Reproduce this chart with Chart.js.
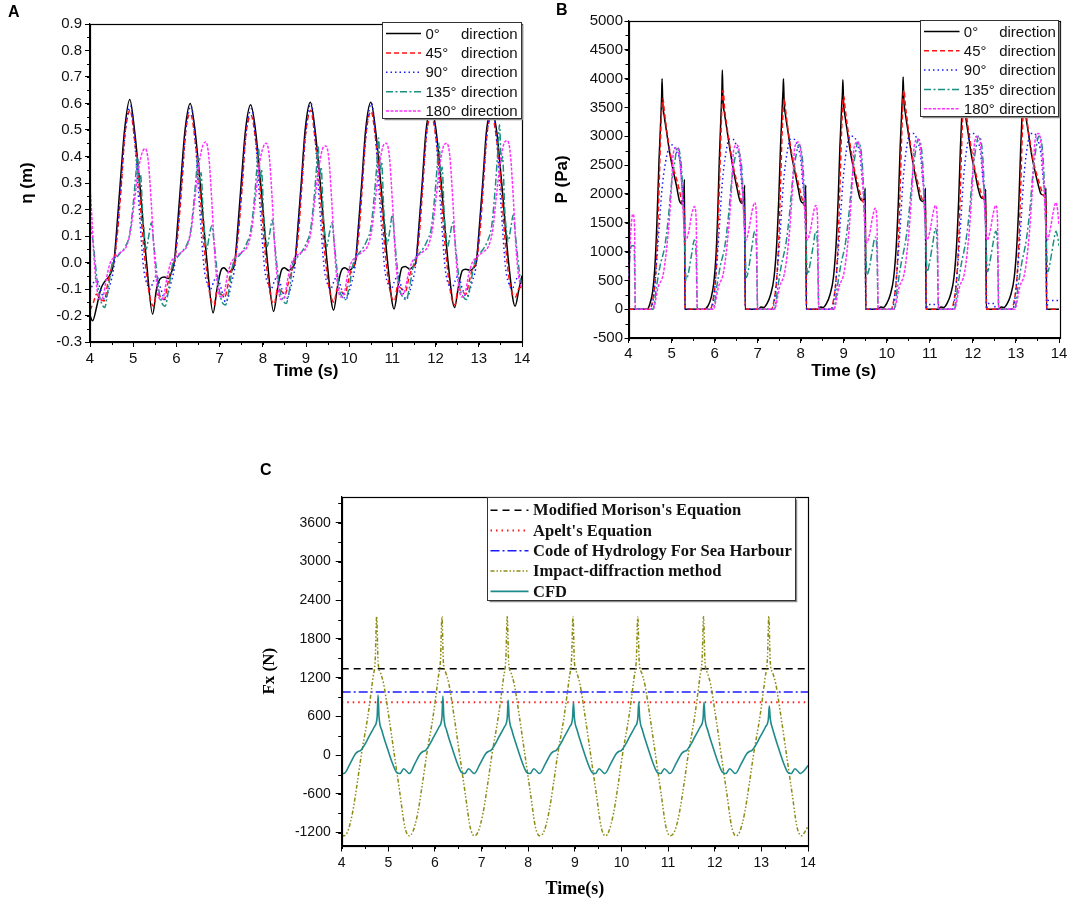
<!DOCTYPE html>
<html>
<head>
<meta charset="utf-8">
<script src="https://cdn.jsdelivr.net/npm/chart.js@4.4.1/dist/chart.umd.min.js"></script>
<style>
  html, body { margin: 0; padding: 0; background: #fff; }
  #wrap { position: relative; width: 1084px; height: 902px; background: #fff; overflow: hidden; }
  .panel { position: absolute; }
  .plabel { position: absolute; font: bold 16px "Liberation Sans", Arial, sans-serif; line-height: 16px; color: #000; }
</style>
</head>
<body>
<div id="wrap">
  <div class="panel" style="left:0;top:0;width:542px;height:400px"><canvas id="ca" width="542" height="400"></canvas></div>
  <div class="panel" style="left:542px;top:0;width:542px;height:400px"><canvas id="cb" width="542" height="400"></canvas></div>
  <div class="panel" style="left:250px;top:470px;width:600px;height:432px"><canvas id="cc" width="600" height="432"></canvas></div>
  <div class="plabel" style="left:8px;top:4px">A</div>
  <div class="plabel" style="left:556px;top:2px">B</div>
  <div class="plabel" style="left:260px;top:462px">C</div>
</div>
<script>
// ---------------- DATA ----------------
// shared time axis ticks
const timeTicks = [4, 5, 6, 7, 8, 9, 10, 11, 12, 13, 14];
const etaTicks = [-0.3, -0.2, -0.1, 0.0, 0.1, 0.2, 0.3, 0.4, 0.5, 0.6, 0.7, 0.8, 0.9];
const pressureTicks = [-500, 0, 500, 1000, 1500, 2000, 2500, 3000, 3500, 4000, 4500, 5000];
const forceTicks = [-1200, -600, 0, 600, 1200, 1800, 2400, 3000, 3600];

const directionNames = ['0°', '45°', '90°', '135°', '180°'];
const forceNames = ["Modified Morison's Equation", "Apelt's Equation", 'Code of Hydrology For Sea Harbour', 'Impact-diffraction method', 'CFD'];

// Panel A: wave elevation eta (m) vs time (s), [t, eta]
const eta0 = [[4.00,-0.20],[4.06,-0.22],[4.15,-0.17],[4.25,-0.10],[4.35,-0.07],[4.45,-0.05],[4.55,0.00],[4.63,0.15],[4.70,0.30],[4.80,0.50],[4.92,0.615],[5.03,0.50],[5.15,0.30],[5.31,0.00],[5.45,-0.195],[5.54,-0.10],[5.63,-0.06],[5.72,-0.055],[5.82,-0.06],[5.90,-0.03],[5.95,0.00],[6.03,0.15],[6.10,0.30],[6.20,0.50],[6.32,0.60],[6.43,0.50],[6.55,0.30],[6.71,0.00],[6.85,-0.19],[6.94,-0.10],[7.03,-0.03],[7.10,-0.02],[7.20,-0.035],[7.28,-0.03],[7.35,0.00],[7.43,0.15],[7.50,0.30],[7.60,0.50],[7.72,0.595],[7.83,0.50],[7.95,0.30],[8.11,0.00],[8.25,-0.185],[8.34,-0.10],[8.43,-0.03],[8.50,-0.02],[8.60,-0.03],[8.68,-0.02],[8.74,0.00],[8.82,0.15],[8.89,0.30],[8.98,0.50],[9.10,0.605],[9.21,0.50],[9.33,0.30],[9.49,0.00],[9.64,-0.18],[9.73,-0.09],[9.82,-0.03],[9.90,-0.02],[10.00,-0.03],[10.08,-0.02],[10.14,0.00],[10.22,0.15],[10.29,0.30],[10.38,0.50],[10.50,0.605],[10.61,0.50],[10.73,0.30],[10.89,0.00],[11.04,-0.175],[11.13,-0.09],[11.22,-0.02],[11.30,-0.015],[11.40,-0.025],[11.48,-0.015],[11.54,0.00],[11.62,0.15],[11.69,0.30],[11.78,0.50],[11.90,0.58],[12.01,0.50],[12.13,0.30],[12.29,0.00],[12.44,-0.17],[12.53,-0.09],[12.62,-0.03],[12.70,-0.025],[12.80,-0.03],[12.88,-0.02],[12.94,0.00],[13.02,0.15],[13.09,0.30],[13.18,0.50],[13.30,0.57],[13.41,0.50],[13.53,0.30],[13.69,0.00],[13.84,-0.165],[13.93,-0.10],[14.00,-0.05]];
const eta45 = [[4.00,-0.18],[4.08,-0.15],[4.15,-0.12],[4.25,-0.14],[4.33,-0.145],[4.41,-0.08],[4.48,-0.03],[4.55,0.00],[4.64,0.12],[4.72,0.28],[4.80,0.47],[4.87,0.55],[4.93,0.575],[5.02,0.48],[5.12,0.32],[5.22,0.10],[5.32,-0.06],[5.40,-0.14],[5.47,-0.165],[5.54,-0.12],[5.64,-0.13],[5.72,-0.14],[5.80,-0.08],[5.87,-0.03],[5.95,0.00],[6.04,0.12],[6.12,0.28],[6.20,0.47],[6.27,0.55],[6.33,0.56],[6.42,0.48],[6.52,0.32],[6.62,0.10],[6.72,-0.06],[6.80,-0.14],[6.87,-0.16],[6.94,-0.11],[7.04,-0.12],[7.12,-0.13],[7.20,-0.08],[7.27,-0.03],[7.35,0.00],[7.44,0.12],[7.52,0.28],[7.60,0.47],[7.67,0.54],[7.73,0.555],[7.82,0.48],[7.92,0.32],[8.02,0.10],[8.12,-0.06],[8.20,-0.14],[8.27,-0.155],[8.34,-0.10],[8.44,-0.11],[8.52,-0.12],[8.60,-0.07],[8.67,-0.03],[8.74,0.00],[8.83,0.12],[8.90,0.28],[8.98,0.47],[9.05,0.55],[9.11,0.575],[9.20,0.48],[9.30,0.32],[9.40,0.10],[9.50,-0.06],[9.58,-0.13],[9.65,-0.15],[9.72,-0.10],[9.82,-0.11],[9.90,-0.12],[9.98,-0.07],[10.06,-0.02],[10.14,0.00],[10.23,0.12],[10.30,0.28],[10.38,0.47],[10.45,0.55],[10.51,0.57],[10.60,0.48],[10.70,0.32],[10.80,0.10],[10.90,-0.06],[10.98,-0.13],[11.05,-0.145],[11.12,-0.09],[11.22,-0.10],[11.30,-0.11],[11.38,-0.06],[11.46,-0.02],[11.54,0.00],[11.63,0.12],[11.70,0.28],[11.78,0.47],[11.85,0.54],[11.91,0.55],[12.00,0.48],[12.10,0.32],[12.20,0.10],[12.30,-0.06],[12.38,-0.14],[12.45,-0.16],[12.52,-0.10],[12.62,-0.11],[12.70,-0.12],[12.78,-0.07],[12.86,-0.02],[12.94,0.00],[13.03,0.12],[13.10,0.28],[13.18,0.47],[13.25,0.54],[13.31,0.55],[13.40,0.48],[13.50,0.32],[13.60,0.10],[13.70,-0.06],[13.78,-0.12],[13.85,-0.13],[13.92,-0.10],[14.00,-0.09]];
const eta90 = [[4.00,-0.11],[4.07,-0.08],[4.14,-0.06],[4.24,-0.10],[4.34,-0.14],[4.42,-0.11],[4.47,-0.08],[4.55,-0.02],[4.62,0.10],[4.72,0.30],[4.82,0.50],[4.90,0.58],[4.94,0.59],[5.04,0.45],[5.14,0.20],[5.24,-0.02],[5.34,-0.09],[5.39,-0.10],[5.47,-0.07],[5.54,-0.05],[5.64,-0.10],[5.74,-0.14],[5.82,-0.11],[5.87,-0.08],[5.95,-0.02],[6.02,0.10],[6.12,0.30],[6.22,0.50],[6.30,0.58],[6.34,0.59],[6.44,0.45],[6.54,0.20],[6.64,-0.02],[6.74,-0.09],[6.79,-0.10],[6.87,-0.07],[6.94,-0.05],[7.04,-0.10],[7.14,-0.15],[7.22,-0.12],[7.27,-0.08],[7.35,-0.02],[7.42,0.10],[7.52,0.30],[7.62,0.50],[7.70,0.57],[7.74,0.58],[7.84,0.45],[7.94,0.20],[8.04,-0.02],[8.14,-0.09],[8.19,-0.10],[8.27,-0.07],[8.34,-0.05],[8.44,-0.10],[8.54,-0.14],[8.62,-0.11],[8.67,-0.08],[8.74,-0.02],[8.80,0.10],[8.90,0.30],[9.00,0.50],[9.08,0.59],[9.12,0.60],[9.22,0.45],[9.32,0.20],[9.42,-0.02],[9.52,-0.09],[9.57,-0.10],[9.65,-0.07],[9.72,-0.05],[9.82,-0.10],[9.92,-0.14],[10.00,-0.11],[10.05,-0.08],[10.13,-0.02],[10.20,0.10],[10.30,0.30],[10.40,0.50],[10.48,0.59],[10.52,0.60],[10.62,0.45],[10.72,0.20],[10.82,-0.02],[10.92,-0.09],[10.97,-0.10],[11.05,-0.07],[11.12,-0.05],[11.22,-0.10],[11.32,-0.14],[11.40,-0.11],[11.45,-0.08],[11.53,-0.02],[11.60,0.10],[11.70,0.30],[11.80,0.50],[11.88,0.57],[11.92,0.58],[12.02,0.45],[12.12,0.20],[12.22,-0.02],[12.32,-0.09],[12.37,-0.10],[12.45,-0.07],[12.52,-0.05],[12.62,-0.10],[12.72,-0.13],[12.80,-0.10],[12.85,-0.07],[12.93,-0.02],[13.00,0.10],[13.10,0.30],[13.20,0.50],[13.28,0.56],[13.32,0.57],[13.42,0.45],[13.52,0.20],[13.62,-0.02],[13.72,-0.09],[13.77,-0.10],[13.85,-0.07],[13.92,-0.05],[14.00,-0.08]];
const eta135 = [[4.00,0.15],[4.07,0.08],[4.12,0.00],[4.19,-0.10],[4.26,-0.15],[4.34,-0.17],[4.42,-0.10],[4.52,0.00],[4.62,0.02],[4.72,0.04],[4.82,0.06],[4.92,0.11],[5.00,0.22],[5.06,0.33],[5.10,0.40],[5.14,0.30],[5.17,0.33],[5.22,0.18],[5.26,0.10],[5.30,0.05],[5.36,0.10],[5.42,0.15],[5.47,0.08],[5.52,0.00],[5.59,-0.10],[5.66,-0.15],[5.74,-0.165],[5.82,-0.10],[5.92,0.00],[6.02,0.02],[6.12,0.04],[6.22,0.06],[6.32,0.11],[6.40,0.22],[6.46,0.33],[6.50,0.40],[6.54,0.30],[6.57,0.34],[6.62,0.18],[6.66,0.10],[6.70,0.05],[6.76,0.10],[6.82,0.14],[6.87,0.08],[6.92,0.00],[6.99,-0.10],[7.06,-0.15],[7.14,-0.16],[7.22,-0.10],[7.32,0.00],[7.42,0.02],[7.52,0.04],[7.62,0.07],[7.72,0.12],[7.80,0.23],[7.86,0.35],[7.90,0.43],[7.94,0.32],[7.97,0.35],[8.02,0.18],[8.06,0.10],[8.10,0.06],[8.16,0.11],[8.22,0.16],[8.27,0.08],[8.32,0.00],[8.39,-0.10],[8.46,-0.14],[8.54,-0.155],[8.62,-0.10],[8.70,0.00],[8.80,0.02],[8.90,0.04],[9.00,0.07],[9.10,0.12],[9.18,0.23],[9.24,0.35],[9.28,0.44],[9.32,0.33],[9.35,0.36],[9.40,0.18],[9.44,0.10],[9.48,0.06],[9.54,0.11],[9.60,0.15],[9.65,0.08],[9.70,0.00],[9.77,-0.10],[9.84,-0.13],[9.92,-0.14],[10.00,-0.09],[10.10,0.00],[10.20,0.03],[10.30,0.05],[10.40,0.08],[10.50,0.13],[10.58,0.25],[10.64,0.37],[10.68,0.47],[10.72,0.35],[10.75,0.38],[10.80,0.20],[10.84,0.12],[10.88,0.07],[10.94,0.12],[11.00,0.18],[11.05,0.09],[11.10,0.00],[11.17,-0.10],[11.24,-0.13],[11.32,-0.14],[11.40,-0.09],[11.50,0.00],[11.60,0.03],[11.70,0.05],[11.80,0.08],[11.90,0.13],[11.98,0.25],[12.04,0.37],[12.08,0.45],[12.12,0.33],[12.15,0.36],[12.20,0.18],[12.24,0.10],[12.28,0.06],[12.34,0.11],[12.40,0.15],[12.45,0.08],[12.50,0.00],[12.57,-0.10],[12.64,-0.13],[12.72,-0.14],[12.80,-0.09],[12.90,0.00],[13.00,0.03],[13.10,0.05],[13.20,0.08],[13.30,0.14],[13.38,0.28],[13.44,0.42],[13.48,0.52],[13.52,0.38],[13.55,0.40],[13.60,0.20],[13.64,0.12],[13.68,0.08],[13.74,0.13],[13.80,0.18],[13.85,0.10],[13.90,0.02],[13.96,-0.06],[14.00,-0.08]];
const eta180 = [[4.00,0.29],[4.04,0.18],[4.08,0.05],[4.14,-0.07],[4.22,-0.14],[4.30,-0.13],[4.38,-0.06],[4.47,0.00],[4.57,0.02],[4.72,0.04],[4.84,0.06],[4.94,0.12],[5.02,0.22],[5.12,0.35],[5.22,0.42],[5.28,0.43],[5.35,0.38],[5.42,0.22],[5.48,0.05],[5.54,-0.07],[5.62,-0.14],[5.70,-0.13],[5.78,-0.06],[5.87,0.00],[5.97,0.02],[6.12,0.04],[6.24,0.06],[6.34,0.12],[6.42,0.23],[6.52,0.37],[6.62,0.445],[6.68,0.455],[6.75,0.40],[6.82,0.23],[6.88,0.05],[6.94,-0.07],[7.02,-0.13],[7.10,-0.12],[7.18,-0.05],[7.27,0.00],[7.37,0.02],[7.52,0.04],[7.64,0.06],[7.74,0.12],[7.82,0.23],[7.92,0.37],[8.02,0.44],[8.08,0.45],[8.15,0.40],[8.22,0.23],[8.28,0.05],[8.34,-0.07],[8.42,-0.14],[8.50,-0.13],[8.58,-0.06],[8.67,0.00],[8.75,0.02],[8.90,0.04],[9.02,0.06],[9.12,0.12],[9.20,0.23],[9.30,0.36],[9.40,0.435],[9.46,0.44],[9.53,0.39],[9.60,0.22],[9.66,0.05],[9.72,-0.07],[9.80,-0.13],[9.88,-0.12],[9.96,-0.05],[10.05,0.00],[10.15,0.02],[10.30,0.04],[10.42,0.06],[10.52,0.12],[10.60,0.23],[10.70,0.37],[10.80,0.445],[10.86,0.45],[10.93,0.40],[11.00,0.23],[11.06,0.05],[11.12,-0.07],[11.20,-0.12],[11.28,-0.11],[11.36,-0.05],[11.45,0.00],[11.55,0.02],[11.70,0.04],[11.82,0.06],[11.92,0.12],[12.00,0.23],[12.10,0.37],[12.20,0.445],[12.26,0.45],[12.33,0.40],[12.40,0.23],[12.46,0.05],[12.52,-0.07],[12.60,-0.13],[12.68,-0.12],[12.76,-0.05],[12.85,0.00],[12.95,0.02],[13.10,0.04],[13.22,0.06],[13.32,0.12],[13.40,0.24],[13.50,0.38],[13.60,0.455],[13.66,0.46],[13.73,0.41],[13.80,0.24],[13.86,0.06],[13.92,-0.05],[14.00,-0.10]];

// Panel B: pressure P (Pa) vs time (s), [t, P]
const p0 = [[4.00,0],[4.43,0],[4.50,100],[4.56,300],[4.61,700],[4.66,1500],[4.71,2600],[4.75,3300],[4.77,3700],[4.78,4000],[4.795,3600],[4.83,3350],[4.88,3100],[4.96,2700],[5.04,2400],[5.12,2120],[5.18,1890],[5.24,1830],[5.28,1950],[5.30,2250],[5.31,0],[5.75,0],[5.85,60],[5.92,200],[5.98,450],[6.03,900],[6.07,1600],[6.11,2600],[6.15,3400],[6.17,3800],[6.18,4150],[6.195,3650],[6.23,3400],[6.28,3150],[6.36,2750],[6.44,2400],[6.52,2100],[6.58,1900],[6.64,1840],[6.68,1950],[6.70,2150],[6.71,0],[7.02,0],[7.08,40],[7.14,30],[7.22,100],[7.30,250],[7.38,550],[7.44,1100],[7.49,1900],[7.53,2800],[7.57,3500],[7.59,3800],[7.60,4000],[7.615,3600],[7.65,3350],[7.70,3100],[7.78,2700],[7.86,2400],[7.94,2100],[8.00,1880],[8.06,1840],[8.10,1950],[8.12,2150],[8.13,0],[8.40,0],[8.46,40],[8.52,30],[8.60,100],[8.68,250],[8.76,550],[8.82,1100],[8.87,1900],[8.91,2800],[8.95,3500],[8.97,3750],[8.98,3980],[8.995,3600],[9.03,3350],[9.08,3100],[9.16,2700],[9.24,2400],[9.32,2100],[9.38,1920],[9.44,1880],[9.48,1950],[9.50,2100],[9.51,0],[9.80,0],[9.86,40],[9.92,30],[10.00,100],[10.08,250],[10.16,550],[10.22,1100],[10.27,1900],[10.31,2800],[10.35,3500],[10.37,3800],[10.38,4030],[10.395,3650],[10.43,3400],[10.48,3150],[10.56,2750],[10.64,2400],[10.72,2100],[10.78,1900],[10.84,1870],[10.88,1950],[10.90,2100],[10.91,0],[11.20,0],[11.26,40],[11.32,30],[11.40,100],[11.48,250],[11.56,550],[11.62,1100],[11.67,1900],[11.71,2800],[11.75,3500],[11.77,3750],[11.78,3950],[11.795,3600],[11.83,3350],[11.88,3100],[11.96,2700],[12.04,2400],[12.12,2100],[12.18,1950],[12.24,1920],[12.28,1960],[12.30,2080],[12.31,0],[12.60,0],[12.66,40],[12.72,30],[12.80,100],[12.88,250],[12.96,550],[13.02,1100],[13.07,1900],[13.11,2800],[13.15,3500],[13.17,3750],[13.18,3950],[13.195,3600],[13.23,3350],[13.28,3100],[13.36,2700],[13.44,2400],[13.52,2150],[13.58,2000],[13.64,1980],[13.68,2000],[13.70,2100],[13.71,0],[14.00,0]];
const p45 = [[4.00,0],[4.50,0],[4.56,150],[4.62,500],[4.67,1200],[4.71,2100],[4.75,3100],[4.78,3550],[4.80,3650],[4.83,3450],[4.88,3150],[4.96,2750],[5.04,2450],[5.12,2250],[5.20,2000],[5.26,1800],[5.30,1650],[5.315,0],[5.90,0],[5.96,150],[6.02,500],[6.07,1200],[6.11,2100],[6.15,3100],[6.18,3700],[6.20,3800],[6.23,3500],[6.28,3200],[6.36,2800],[6.44,2450],[6.52,2200],[6.60,1950],[6.66,1800],[6.70,1650],[6.715,0],[7.32,0],[7.38,150],[7.44,500],[7.49,1200],[7.53,2100],[7.57,3100],[7.60,3550],[7.62,3650],[7.65,3450],[7.70,3150],[7.78,2750],[7.86,2450],[7.94,2200],[8.02,1950],[8.08,1800],[8.12,1650],[8.135,0],[8.70,0],[8.76,150],[8.82,500],[8.87,1200],[8.91,2100],[8.95,3100],[8.98,3600],[9.00,3700],[9.03,3500],[9.08,3200],[9.16,2800],[9.24,2450],[9.32,2200],[9.40,1950],[9.46,1850],[9.50,1700],[9.515,0],[10.10,0],[10.16,150],[10.22,500],[10.27,1200],[10.31,2100],[10.35,3100],[10.38,3700],[10.40,3800],[10.43,3550],[10.48,3250],[10.56,2800],[10.64,2450],[10.72,2200],[10.80,1950],[10.86,1850],[10.90,1700],[10.915,0],[11.50,0],[11.56,150],[11.62,500],[11.67,1200],[11.71,2100],[11.75,3100],[11.78,3600],[11.80,3700],[11.83,3500],[11.88,3200],[11.96,2800],[12.04,2450],[12.12,2200],[12.20,2000],[12.26,1900],[12.30,1750],[12.315,0],[12.90,0],[12.96,150],[13.02,500],[13.07,1200],[13.11,2100],[13.15,3100],[13.18,3550],[13.20,3650],[13.23,3450],[13.28,3150],[13.36,2750],[13.44,2450],[13.52,2250],[13.60,2050],[13.66,1950],[13.70,1800],[13.715,0],[14.00,0]];
const p90 = [[4.00,0],[4.52,0],[4.55,50],[4.62,500],[4.70,1300],[4.78,2100],[4.86,2550],[4.94,2800],[5.02,2850],[5.10,2750],[5.20,2550],[5.26,2000],[5.30,1600],[5.315,0],[5.92,0],[5.95,50],[6.02,500],[6.10,1300],[6.18,2200],[6.26,2700],[6.34,2950],[6.42,2950],[6.50,2850],[6.58,2600],[6.64,2100],[6.69,1700],[6.715,0],[7.34,0],[7.37,50],[7.44,500],[7.52,1300],[7.60,2200],[7.68,2700],[7.76,2950],[7.84,2950],[7.92,2850],[8.00,2600],[8.06,2100],[8.11,1700],[8.135,0],[8.72,0],[8.75,50],[8.82,500],[8.90,1300],[8.98,2200],[9.06,2750],[9.14,3000],[9.22,3000],[9.30,2900],[9.38,2650],[9.44,2150],[9.49,1750],[9.515,0],[10.12,0],[10.15,50],[10.22,500],[10.30,1300],[10.38,2250],[10.46,2800],[10.54,3050],[10.62,3050],[10.70,2950],[10.78,2700],[10.84,2200],[10.89,1750],[10.915,0],[10.95,80],[11.20,80],[11.22,0],[11.52,0],[11.55,50],[11.62,500],[11.70,1300],[11.78,2250],[11.86,2800],[11.94,3050],[12.02,3050],[12.10,2950],[12.18,2700],[12.24,2200],[12.29,1750],[12.315,0],[12.35,100],[12.50,100],[12.52,0],[12.92,0],[12.95,50],[13.02,500],[13.10,1300],[13.18,2250],[13.26,2800],[13.34,3050],[13.42,3050],[13.50,2950],[13.58,2700],[13.64,2200],[13.69,1750],[13.715,0],[13.75,150],[14.00,150]];
const p135 = [[4.00,560],[4.04,1000],[4.08,1100],[4.13,1100],[4.16,0],[4.57,0],[4.65,390],[4.73,740],[4.84,1080],[4.92,1540],[5.00,2180],[5.08,2580],[5.13,2810],[5.18,2750],[5.24,2350],[5.29,1430],[5.34,510],[5.39,620],[5.47,970],[5.53,1200],[5.57,970],[5.60,0],[5.97,0],[6.05,390],[6.13,740],[6.24,1100],[6.32,1600],[6.40,2250],[6.48,2650],[6.53,2750],[6.58,2700],[6.64,2350],[6.69,1450],[6.74,550],[6.79,700],[6.87,1100],[6.93,1350],[6.97,1100],[7.00,0],[7.39,0],[7.47,390],[7.55,760],[7.66,1150],[7.74,1650],[7.82,2300],[7.90,2700],[7.95,2850],[8.00,2800],[8.06,2400],[8.11,1450],[8.16,600],[8.21,750],[8.29,1100],[8.35,1350],[8.39,1100],[8.42,0],[8.77,0],[8.85,390],[8.93,760],[9.04,1150],[9.12,1650],[9.20,2300],[9.28,2750],[9.33,2900],[9.38,2850],[9.44,2400],[9.49,1450],[9.54,600],[9.59,700],[9.67,1050],[9.73,1250],[9.77,1050],[9.80,0],[10.17,0],[10.25,400],[10.33,780],[10.44,1200],[10.52,1700],[10.60,2350],[10.68,2800],[10.73,2950],[10.78,2900],[10.84,2450],[10.89,1500],[10.94,650],[10.99,800],[11.07,1150],[11.13,1400],[11.17,1150],[11.20,0],[11.57,0],[11.65,400],[11.73,780],[11.84,1200],[11.92,1700],[12.00,2400],[12.08,2850],[12.13,3000],[12.18,2950],[12.24,2500],[12.29,1500],[12.34,650],[12.39,800],[12.47,1150],[12.53,1350],[12.57,1150],[12.60,0],[12.97,0],[13.05,400],[13.13,780],[13.24,1200],[13.32,1700],[13.40,2400],[13.48,2850],[13.53,3000],[13.58,2950],[13.64,2500],[13.69,1500],[13.74,650],[13.79,800],[13.87,1150],[13.93,1350],[13.97,1250],[14.00,1100]];
const p180 = [[4.00,500],[4.05,1300],[4.10,1650],[4.14,1450],[4.16,0],[4.57,0],[4.69,390],[4.81,620],[4.92,1310],[4.99,2000],[5.04,2700],[5.12,2810],[5.17,2700],[5.24,2120],[5.29,1430],[5.33,1200],[5.40,1350],[5.47,1650],[5.53,1780],[5.57,1600],[5.60,0],[5.97,0],[6.09,390],[6.21,650],[6.32,1350],[6.39,2050],[6.44,2750],[6.52,2850],[6.57,2750],[6.64,2150],[6.69,1450],[6.73,1200],[6.80,1400],[6.87,1700],[6.93,1850],[6.97,1650],[7.00,0],[7.39,0],[7.51,390],[7.63,650],[7.74,1350],[7.81,2100],[7.86,2800],[7.94,2900],[7.99,2800],[8.06,2200],[8.11,1450],[8.15,1200],[8.22,1350],[8.29,1650],[8.35,1800],[8.39,1600],[8.42,0],[8.77,0],[8.89,390],[9.01,650],[9.12,1350],[9.19,2100],[9.24,2800],[9.32,2900],[9.37,2800],[9.44,2200],[9.49,1450],[9.53,1150],[9.60,1300],[9.67,1600],[9.73,1750],[9.77,1550],[9.80,0],[10.17,0],[10.29,390],[10.41,650],[10.52,1400],[10.59,2150],[10.64,2850],[10.72,2950],[10.77,2850],[10.84,2250],[10.89,1500],[10.93,1200],[11.00,1350],[11.07,1650],[11.13,1800],[11.17,1600],[11.20,0],[11.57,0],[11.69,390],[11.81,650],[11.92,1400],[11.99,2200],[12.04,2900],[12.12,3000],[12.17,2900],[12.24,2250],[12.29,1500],[12.33,1200],[12.40,1350],[12.47,1650],[12.53,1800],[12.57,1600],[12.60,0],[12.97,0],[13.09,390],[13.21,650],[13.32,1400],[13.39,2200],[13.44,2900],[13.52,3050],[13.57,2950],[13.64,2300],[13.69,1500],[13.73,1200],[13.80,1400],[13.87,1700],[13.93,1850],[13.97,1700],[14.00,1450]];

// Panel C: horizontal force Fx (N) vs time (s)
const lineTimes = [4, 14];
const morisonForce = [1340, 1340];
const apeltForce = [820, 820];
const codeForce = [980, 980];
const impactForce = [[4.00,-1240],[4.05,-1250],[4.13,-1180],[4.23,-900],[4.33,-450],[4.42,0],[4.56,600],[4.67,1200],[4.72,1500],[4.75,2150],[4.78,1450],[4.83,1280],[4.90,1100],[5.01,600],[5.13,0],[5.25,-600],[5.35,-1100],[5.41,-1230],[5.45,-1250],[5.53,-1180],[5.63,-900],[5.73,-450],[5.82,0],[5.96,600],[6.07,1200],[6.12,1500],[6.15,2150],[6.18,1450],[6.23,1280],[6.30,1100],[6.41,600],[6.53,0],[6.65,-600],[6.75,-1100],[6.81,-1230],[6.85,-1250],[6.93,-1180],[7.03,-900],[7.13,-450],[7.22,0],[7.36,600],[7.47,1200],[7.52,1500],[7.55,2150],[7.58,1450],[7.63,1280],[7.70,1100],[7.81,600],[7.93,0],[8.05,-600],[8.15,-1100],[8.21,-1230],[8.25,-1250],[8.34,-1180],[8.44,-900],[8.54,-450],[8.63,0],[8.77,600],[8.88,1200],[8.93,1500],[8.96,2150],[8.99,1450],[9.04,1280],[9.11,1100],[9.22,600],[9.34,0],[9.46,-600],[9.56,-1100],[9.62,-1230],[9.66,-1250],[9.73,-1180],[9.83,-900],[9.93,-450],[10.02,0],[10.16,600],[10.27,1200],[10.32,1500],[10.35,2150],[10.38,1450],[10.43,1280],[10.50,1100],[10.61,600],[10.73,0],[10.85,-600],[10.95,-1100],[11.01,-1230],[11.05,-1250],[11.14,-1180],[11.24,-900],[11.34,-450],[11.43,0],[11.57,600],[11.68,1200],[11.73,1500],[11.76,2150],[11.79,1450],[11.84,1280],[11.91,1100],[12.02,600],[12.14,0],[12.26,-600],[12.36,-1100],[12.42,-1230],[12.46,-1250],[12.54,-1180],[12.64,-900],[12.74,-450],[12.83,0],[12.97,600],[13.08,1200],[13.13,1500],[13.16,2150],[13.19,1450],[13.24,1280],[13.31,1100],[13.42,600],[13.54,0],[13.66,-600],[13.76,-1100],[13.82,-1230],[13.86,-1250],[13.94,-1180],[14.00,-1100]];
const cfdForce = [[4.00,-285],[4.06,-280],[4.18,-130],[4.30,25],[4.36,60],[4.41,75],[4.50,170],[4.58,280],[4.70,440],[4.76,590],[4.78,930],[4.80,600],[4.86,385],[4.97,128],[5.09,-130],[5.17,-260],[5.25,-285],[5.33,-210],[5.45,-285],[5.57,-130],[5.69,25],[5.75,60],[5.80,75],[5.89,170],[5.97,280],[6.09,440],[6.15,590],[6.17,915],[6.19,600],[6.25,385],[6.36,128],[6.48,-130],[6.56,-260],[6.64,-285],[6.72,-210],[6.84,-285],[6.97,-130],[7.09,25],[7.15,60],[7.20,75],[7.29,170],[7.37,280],[7.49,440],[7.55,580],[7.57,850],[7.59,590],[7.65,385],[7.76,128],[7.88,-130],[7.96,-260],[8.04,-285],[8.12,-210],[8.24,-285],[8.37,-130],[8.49,25],[8.55,60],[8.60,75],[8.69,170],[8.77,280],[8.89,440],[8.95,570],[8.97,820],[8.99,580],[9.05,385],[9.16,128],[9.28,-130],[9.36,-260],[9.44,-285],[9.52,-210],[9.64,-285],[9.77,-130],[9.89,25],[9.95,60],[10.00,75],[10.09,170],[10.17,280],[10.29,440],[10.35,570],[10.37,820],[10.39,580],[10.45,385],[10.56,128],[10.68,-130],[10.76,-260],[10.84,-285],[10.92,-210],[11.04,-285],[11.17,-130],[11.29,25],[11.35,60],[11.40,75],[11.49,170],[11.57,280],[11.69,440],[11.75,570],[11.77,820],[11.79,580],[11.85,385],[11.96,128],[12.08,-130],[12.16,-260],[12.24,-285],[12.32,-210],[12.44,-285],[12.57,-130],[12.69,25],[12.75,60],[12.80,75],[12.89,170],[12.97,280],[13.09,440],[13.15,560],[13.17,760],[13.19,570],[13.25,385],[13.36,128],[13.48,-130],[13.56,-260],[13.64,-285],[13.72,-210],[13.84,-285],[13.93,-230],[14.00,-160]];

// ---------------- HELPERS ----------------
const SANS = '"Liberation Sans", Arial, sans-serif';
const SERIF = '"Liberation Serif", "Times New Roman", serif';
const toXY = (pairs) => pairs.map(p => ({ x: p[0], y: p[1] }));
const hline = (vals) => lineTimes.map((t, i) => ({ x: t, y: vals[i] }));

const framePlugin = {
  id: 'frame',
  afterDatasetsDraw(chart) {
    const { ctx, chartArea: a } = chart;
    ctx.save();
    ctx.strokeStyle = '#000';
    ctx.lineWidth = 1.2;
    ctx.strokeRect(Math.round(a.left) + 0.5, Math.round(a.top) + 0.5, Math.round(a.right - a.left), Math.round(a.bottom - a.top));
    ctx.restore();
  }
};

const minorTicksPlugin = {
  id: 'minorTicks',
  afterDraw(chart, args, o) {
    if (!o || !o.xStep) return;
    const { ctx } = chart;
    const xs = chart.scales.x, ys = chart.scales.y;
    ctx.save();
    ctx.strokeStyle = '#000';
    ctx.lineWidth = 1;
    ctx.beginPath();
    for (let v = xs.min; v <= xs.max + 1e-9; v += o.xStep) {
      const px = Math.round(xs.getPixelForValue(v)) + 0.5;
      ctx.moveTo(px, xs.top);
      ctx.lineTo(px, xs.top + o.len);
    }
    for (let v = o.yStart; v <= ys.max + 1e-9; v += o.yStep) {
      const py = Math.round(ys.getPixelForValue(v)) + 0.5;
      ctx.moveTo(ys.right, py);
      ctx.lineTo(ys.right - o.len, py);
    }
    ctx.stroke();
    ctx.restore();
  }
};

const boxLegendPlugin = {
  id: 'boxLegend',
  afterDatasetsDraw(chart, args, o) {
    if (!o || !o.rows) return;
    const { ctx, chartArea: a } = chart;
    const x0 = Math.round(a.right + o.dx) + 0.5, y0 = Math.round(a.top + o.dy) + 0.5;
    ctx.save();
    ctx.fillStyle = '#fff';
    ctx.fillRect(x0, y0, o.w, o.h);
    ctx.strokeStyle = '#8a8a8a';
    ctx.lineWidth = 1.5;
    ctx.beginPath();
    ctx.moveTo(x0 + 2, y0 + o.h + 1); ctx.lineTo(x0 + o.w + 1, y0 + o.h + 1); ctx.lineTo(x0 + o.w + 1, y0 + 2);
    ctx.stroke();
    ctx.strokeStyle = '#333';
    ctx.lineWidth = 1;
    ctx.strokeRect(x0, y0, o.w, o.h);
    ctx.font = o.font;
    ctx.textBaseline = 'middle';
    ctx.textAlign = 'left';
    o.rows.forEach((r, i) => {
      const ds = chart.data.datasets[i];
      const yy = y0 + o.row0 + i * o.rowH;
      ctx.strokeStyle = ds.borderColor;
      ctx.lineWidth = ds.borderWidth;
      ctx.setLineDash(ds.borderDash || []);
      ctx.beginPath();
      ctx.moveTo(x0 + o.s0, yy);
      ctx.lineTo(x0 + o.s1, yy);
      ctx.stroke();
      ctx.setLineDash([]);
      ctx.fillStyle = '#111';
      ctx.fillText(r[0], x0 + o.t0, yy + 1);
      if (r[1]) ctx.fillText(r[1], x0 + o.t1, yy + 1);
    });
    ctx.restore();
  }
};

function lineDs(label, data, color, dash, width, order) {
  return {
    label, data, borderColor: color, backgroundColor: color,
    borderWidth: width, borderDash: dash, pointRadius: 0, fill: false,
    cubicInterpolationMode: 'monotone', order
  };
}

function axisX(opts) {
  return {
    type: 'linear', min: 4, max: 14,
    afterBuildTicks: (s) => { s.ticks = timeTicks.map(v => ({ value: v })); },
    afterFit: (s) => { s.height = opts.height; },
    grid: { display: true, drawOnChartArea: false, drawTicks: true, tickLength: opts.tickLength, color: '#000', lineWidth: 1 },
    border: { display: true, color: '#000', width: 1.2 },
    ticks: { autoSkip: false, maxRotation: 0, padding: opts.tickPad, color: '#111', font: { family: SANS, size: opts.tickSize }, callback: (v) => String(v) },
    title: { display: true, text: opts.title, color: '#000', font: { family: opts.titleFamily, size: opts.titleSize, weight: 'bold' }, padding: { top: 0, bottom: opts.titlePad } }
  };
}

function axisY(opts) {
  return {
    type: 'linear', min: opts.min, max: opts.max,
    afterBuildTicks: (s) => { s.ticks = opts.ticks.map(v => ({ value: v })); },
    afterFit: (s) => { s.width = opts.width; },
    grid: { display: true, drawOnChartArea: false, drawTicks: true, tickLength: opts.tickLength, color: '#000', lineWidth: 1 },
    border: { display: true, color: '#000', width: 1.2 },
    ticks: { autoSkip: false, padding: opts.tickPad, color: '#111', font: { family: SANS, size: opts.tickSize }, callback: opts.fmt },
    title: { display: true, text: opts.title, color: '#000', font: { family: opts.titleFamily, size: opts.titleSize, weight: 'bold' }, padding: { top: opts.titlePad, bottom: 0 } }
  };
}

Chart.defaults.animation = false;
Chart.defaults.font.family = SANS;

const dirColors = ['#000000', '#ff1010', '#1a1aff', '#1a9080', '#ff30ff'];
const dirDashes = [[], [5, 3], [1.5, 3], [7, 2.5, 2, 2.5], [3, 1.5]];

function directionDatasets(series) {
  return series.map((s, i) => lineDs(directionNames[i] + ' direction', toXY(s), dirColors[i], dirDashes[i], 1.5, 10 - i));
}

const dirLegendRows = directionNames.map(n => [n, 'direction']);

// ---------------- PANEL A ----------------
new Chart(document.getElementById('ca'), {
  type: 'line',
  data: { datasets: directionDatasets([eta0, eta45, eta90, eta135, eta180]) },
  options: {
    responsive: false, animation: false, events: [],
    layout: { padding: { left: 0, top: 24, right: 20, bottom: 0 } },
    scales: {
      x: axisX({ height: 58, tickLength: 5, tickPad: 3, tickSize: 15, title: 'Time (s)', titleFamily: SANS, titleSize: 17, titlePad: 18 }),
      y: axisY({ min: -0.3, max: 0.9, ticks: etaTicks, width: 90, tickLength: 5, tickPad: 3, tickSize: 15, fmt: (v) => Number(v).toFixed(1), title: 'η (m)', titleFamily: SANS, titleSize: 17, titlePad: 17 })
    },
    plugins: {
      legend: { display: false }, tooltip: { enabled: false },
      minorTicks: { xStep: 0.5, yStart: -0.3, yStep: 0.05, len: 3 },
      boxLegend: { rows: dirLegendRows, dx: -140, dy: -2, w: 139, h: 96, row0: 11, rowH: 19.4, s0: 3.5, s1: 38.5, t0: 43, t1: 78.5, font: '15px ' + SANS }
    }
  },
  plugins: [framePlugin, boxLegendPlugin, minorTicksPlugin]
});

// ---------------- PANEL B ----------------
new Chart(document.getElementById('cb'), {
  type: 'line',
  data: { datasets: directionDatasets([p0, p45, p90, p135, p180]) },
  options: {
    responsive: false, animation: false, events: [],
    layout: { padding: { left: 0, top: 21, right: 25, bottom: 0 } },
    scales: {
      x: axisX({ height: 62, tickLength: 5, tickPad: 2, tickSize: 15, title: 'Time (s)', titleFamily: SANS, titleSize: 17, titlePad: 18 }),
      y: axisY({ min: -500, max: 5000, ticks: pressureTicks, width: 86.5, tickLength: 4, tickPad: 1.5, tickSize: 15, fmt: (v) => String(v), title: 'P (Pa)', titleFamily: SANS, titleSize: 17, titlePad: 10 })
    },
    plugins: {
      legend: { display: false }, tooltip: { enabled: false },
      minorTicks: { xStep: 0.5, yStart: -500, yStep: 250, len: 3 },
      boxLegend: { rows: dirLegendRows, dx: -139, dy: -1, w: 138, h: 96, row0: 11, rowH: 19.3, s0: 3.5, s1: 39, t0: 43.3, t1: 78.7, font: '15px ' + SANS }
    }
  },
  plugins: [framePlugin, boxLegendPlugin, minorTicksPlugin]
});

// ---------------- PANEL C ----------------
new Chart(document.getElementById('cc'), {
  type: 'line',
  data: {
    datasets: [
      lineDs(forceNames[0], hline(morisonForce), '#000000', [7, 5], 1.5, 5),
      lineDs(forceNames[1], hline(apeltForce), '#ff1a1a', [1.5, 4], 1.8, 4),
      lineDs(forceNames[2], hline(codeForce), '#1a1aff', [9, 3, 2, 3], 1.5, 3),
      lineDs(forceNames[3], toXY(impactForce), '#8c8c14', [4, 2, 1.5, 2, 1.5, 2], 1.5, 2),
      lineDs(forceNames[4], toXY(cfdForce), '#1f8a8a', [], 1.6, 1)
    ]
  },
  options: {
    responsive: false, animation: false, events: [],
    layout: { padding: { left: 0, top: 27, right: 42, bottom: 0 } },
    scales: {
      x: axisX({ height: 56.5, tickLength: 6, tickPad: 3, tickSize: 14, title: 'Time(s)', titleFamily: SERIF, titleSize: 18, titlePad: 2 }),
      y: axisY({ min: -1400, max: 4000, ticks: forceTicks, width: 91.7, tickLength: 6, tickPad: 5, tickSize: 14, fmt: (v) => String(v), title: 'Fx (N)', titleFamily: SERIF, titleSize: 17, titlePad: 9 })
    },
    plugins: {
      legend: { display: false }, tooltip: { enabled: false },
      minorTicks: { xStep: 0.5, yStart: -1200, yStep: 300, len: 3.5 },
      boxLegend: { rows: forceNames.map(n => [n, '']), dx: -321, dy: 0, w: 308, h: 103, row0: 12.7, rowH: 20.3, s0: 3, s1: 41, t0: 45.6, t1: 0, font: 'bold 16.5px ' + SERIF }
    }
  },
  plugins: [framePlugin, boxLegendPlugin, minorTicksPlugin]
});
</script>
</body>
</html>
